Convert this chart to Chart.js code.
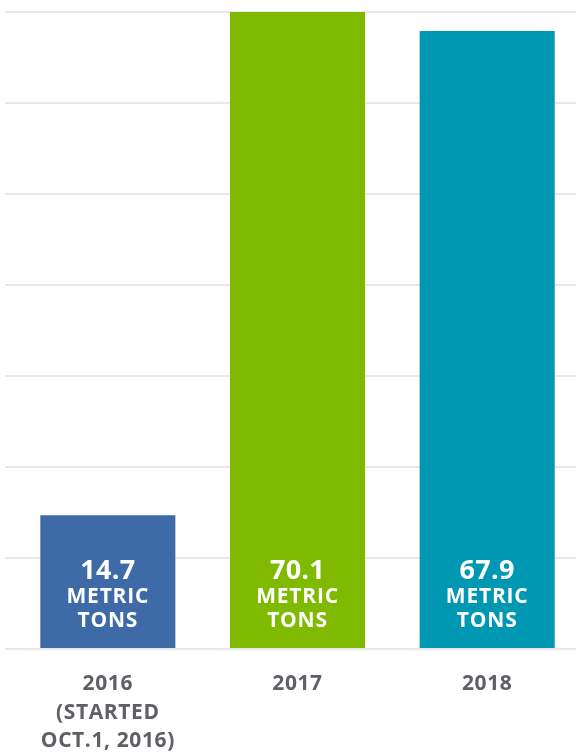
<!DOCTYPE html>
<html>
<head>
<meta charset="utf-8">
<script src="https://cdn.jsdelivr.net/npm/chart.js@4"></script>
<style>
    html, body { margin: 0; padding: 0; background: #ffffff; overflow: hidden; }
    #wrap { width: 582px; height: 755px; position: relative; }
</style>
</head>
<body>
<div id="wrap"><canvas id="tonsChart"></canvas></div>
<script>
const years = [["2016", "(STARTED", "OCT.1, 2016)"], ["2017"], ["2018"]];
const tons = [14.7, 70.1, 67.9];
const barColors = ["#3f6aa8", "#7fba00", "#0097b2"];
const unitLines = ["METRIC", "TONS"];
const yTicks = [0, 10, 20, 30, 40, 50, 60, 70];

const fontFamily = "'Open Sans', 'Noto Sans', sans-serif";

// the source font is wider than Open Sans, so open the letters up a little
const spacing = {
    id: 'spacing',
    beforeDraw(chart) { chart.ctx.letterSpacing = '0.6px'; }
};

// writes the value + unit inside the bottom of each bar
const barText = {
    id: 'barText',
    afterDatasetsDraw(chart) {
        const ctx = chart.ctx;
        const base = chart.scales.y.getPixelForValue(0);
        chart.getDatasetMeta(0).data.forEach((bar, i) => {
            ctx.save();
            ctx.fillStyle = '#ffffff';
            ctx.textAlign = 'center';
            ctx.textBaseline = 'middle';
            ctx.letterSpacing = '0.3px';
            ctx.font = `bold 27px ${fontFamily}`;
            ctx.fillText(tons[i].toFixed(1), bar.x, base - 78);
            ctx.letterSpacing = '0.8px';
            ctx.font = `bold 21px ${fontFamily}`;
            ctx.fillText(unitLines[0], bar.x, base - 52);
            ctx.fillText(unitLines[1], bar.x, base - 28);
            ctx.restore();
        });
    }
};

function draw() {
    const ctx = document.getElementById('tonsChart').getContext('2d');
    new Chart(ctx, {
        type: 'bar',
        data: {
            labels: years,
            datasets: [{
                data: tons,
                backgroundColor: barColors,
                borderWidth: 0,
                categoryPercentage: 0.712,
                barPercentage: 1
            }]
        },
        options: {
            responsive: true,
            maintainAspectRatio: false,
            animation: false,
            layout: { padding: { top: 12, left: 5, right: 0, bottom: 0 } },
            plugins: {
                legend: { display: false },
                tooltip: { enabled: false }
            },
            scales: {
                x: {
                    grid: { display: false, drawTicks: false },
                    border: { display: false },
                    ticks: {
                        padding: 21,
                        color: '#5e6065',
                        font: { family: fontFamily, size: 21, weight: 'bold', lineHeight: 1.36 }
                    },
                    afterFit(scale) { scale.height = 106; }
                },
                y: {
                    min: 0,
                    max: 70,
                    afterBuildTicks(scale) { scale.ticks = yTicks.map(v => ({ value: v })); },
                    grid: { color: '#e8e8e8', lineWidth: 2, drawTicks: true, tickLength: 8 },
                    border: { display: false },
                    ticks: { display: false }
                }
            }
        },
        plugins: [spacing, barText]
    });
}

Promise.all([
    document.fonts.load(`bold 21px 'Open Sans'`),
    document.fonts.load(`bold 27px 'Open Sans'`)
]).then(draw, draw);
</script>
</body>
</html>
